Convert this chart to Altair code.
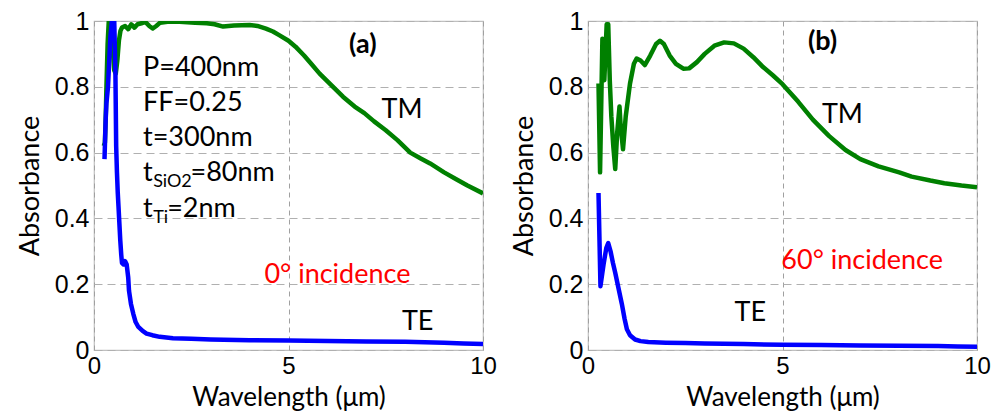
import altair as alt
import pandas as pd

# ---------------- data ----------------
# Panel (a): 0 deg incidence
a_tm_x = [0.25, 0.28, 0.30, 0.32, 0.35, 0.38, 0.42, 0.46, 0.49, 0.52, 0.56, 0.60, 0.64, 0.68, 0.72,
          0.80, 0.88, 0.96, 1.04, 1.12, 1.22, 1.32, 1.42, 1.51, 1.60, 1.70, 1.89, 2.2, 2.6, 2.9,
          3.1, 3.32, 3.6, 4.0, 4.2, 4.42, 4.6, 4.76, 5.0, 5.18, 5.4, 5.6, 5.8, 6.1, 6.4, 6.7,
          6.95, 7.2, 7.5, 7.8, 8.13, 8.4, 8.64, 9.0, 9.3, 9.6, 10.0]
a_tm_y = [0.62, 0.63, 0.70, 0.80, 0.93, 1.0, 1.0, 0.97, 0.90, 0.85, 0.84, 0.88, 0.94, 0.97, 0.98,
          0.985, 0.975, 0.99, 0.98, 0.99, 0.993, 0.997, 0.985, 0.977, 0.985, 0.995, 0.998, 0.998, 0.995, 0.993,
          0.99, 0.983, 0.986, 0.988, 0.985, 0.977, 0.968, 0.957, 0.94, 0.922, 0.895, 0.868, 0.84, 0.805, 0.77, 0.74,
          0.72, 0.695, 0.668, 0.638, 0.60, 0.582, 0.567, 0.54, 0.52, 0.50, 0.476]
a_te_x = [0.27, 0.30, 0.32, 0.36, 0.42, 0.46, 0.52, 0.55, 0.57, 0.59, 0.61, 0.63, 0.65, 0.675, 0.70,
          0.72, 0.76, 0.80, 0.84, 0.88, 0.90, 0.95, 1.01, 1.07, 1.14, 1.25, 1.35, 1.5, 1.69, 2.03,
          2.5, 3.0, 4.0, 5.0, 6.0, 7.0, 8.0, 9.0, 9.5, 10.0]
a_te_y = [0.58, 0.70, 0.75, 0.80, 0.95, 1.0, 1.0, 0.85, 0.62, 0.54, 0.48, 0.436, 0.39, 0.334, 0.29,
          0.264, 0.26, 0.27, 0.26, 0.22, 0.18, 0.14, 0.11, 0.085, 0.07, 0.058, 0.05, 0.045, 0.04, 0.036,
          0.034, 0.032, 0.030, 0.029, 0.027, 0.026, 0.025, 0.022, 0.020, 0.018]

# Panel (b): 60 deg incidence
b_tm_x = [0.27, 0.31, 0.37, 0.42, 0.48, 0.52, 0.56, 0.60, 0.65, 0.70, 0.75, 0.81, 0.84, 0.90, 0.97,
          1.08, 1.18, 1.25, 1.35, 1.46, 1.6, 1.75, 1.85, 1.95, 2.1, 2.26, 2.45, 2.6, 2.8, 3.0,
          3.25, 3.5, 3.75, 4.0, 4.25, 4.5, 4.75, 5.0, 5.4, 5.78, 6.2, 6.62, 7.0, 7.47, 8.0,
          8.32, 8.8, 9.16, 9.6, 10.0]
b_tm_y = [0.81, 0.54, 0.946, 0.82, 0.99, 0.99, 0.82, 0.71, 0.62, 0.55, 0.66, 0.74, 0.68, 0.61, 0.71,
          0.81, 0.87, 0.886, 0.88, 0.866, 0.895, 0.93, 0.94, 0.93, 0.895, 0.87, 0.855, 0.856, 0.875, 0.90,
          0.925, 0.935, 0.932, 0.916, 0.89, 0.86, 0.835, 0.808, 0.755, 0.70, 0.65, 0.608, 0.58, 0.558, 0.54,
          0.527, 0.515, 0.507, 0.50, 0.495]
b_te_x = [0.27, 0.32, 0.40, 0.47, 0.52, 0.58, 0.64, 0.70, 0.78, 0.87, 0.94, 1.0, 1.08, 1.21, 1.35,
          1.55, 2.0, 2.5, 3.0, 4.0, 5.0, 6.0, 7.0, 8.0, 9.0, 9.5, 10.0]
b_te_y = [0.477, 0.194, 0.26, 0.31, 0.325, 0.30, 0.265, 0.235, 0.19, 0.14, 0.095, 0.063, 0.045, 0.032, 0.027,
          0.024, 0.022, 0.021, 0.020, 0.018, 0.016, 0.015, 0.014, 0.013, 0.012, 0.011, 0.010]

series_names = ["TM", "TE"]
series_colors = ["#008000", "#0000ff"]

x_ticks = [0, 5, 10]
y_ticks = [0, 0.2, 0.4, 0.6, 0.8, 1]

panel_labels = ["(a)", "(b)"]
incidence_texts = ["0° incidence", "60° incidence"]

W, H = 389, 329
TEXT_FONT = "Lato"
TICK_FONT = "Liberation Sans"
FS = 27


def series_df(tm_x, tm_y, te_x, te_y):
    return pd.concat([
        pd.DataFrame({"x": tm_x, "y": tm_y, "s": "TM", "o": range(len(tm_x))}),
        pd.DataFrame({"x": te_x, "y": te_y, "s": "TE", "o": range(len(te_x))}),
    ])


xs = alt.Scale(domain=[0, 10], nice=False, zero=False)
ys = alt.Scale(domain=[0, 1], nice=False, zero=False)

x_axis = alt.Axis(values=x_ticks, format=".1~f", title="Wavelength (μm)", grid=True, gridDash=[5, 4],
                  gridColor="#a0a0a0", ticks=False, domain=False, labelFlush=False,
                  labelFont=TICK_FONT, labelFontSize=24, labelPadding=4, labelColor="black",
                  titleFont=TEXT_FONT, titleFontSize=26, titleFontWeight="normal",
                  titleColor="black", titlePadding=6)
y_axis = alt.Axis(values=y_ticks, format=".1~f", title="Absorbance", grid=True, gridDash=[8, 5],
                  gridColor="#b0b0b0", ticks=False, domain=False, labelFlush=False,
                  labelFont=TICK_FONT, labelFontSize=25, labelPadding=5, labelColor="black",
                  titleFont=TEXT_FONT, titleFontSize=FS, titleFontWeight="normal",
                  titleColor="black", titlePadding=10)


def text_layer(df, size, color="black", align="left", weight="normal", dy=0):
    return alt.Chart(df).mark_text(font=TEXT_FONT, fontSize=size, color=color, align=align,
                                   baseline="middle", fontWeight=weight, dy=dy).encode(
        x=alt.X("x:Q", scale=xs), y=alt.Y("y:Q", scale=ys), text="t:N")


def panel(df, ann_main, ann_sub, ann_label, ann_series, ann_inc):
    lines = alt.Chart(df).mark_line(strokeWidth=4.5, clip=True, strokeJoin="round").encode(
        x=alt.X("x:Q", scale=xs, axis=x_axis),
        y=alt.Y("y:Q", scale=ys, axis=y_axis),
        color=alt.Color("s:N", scale=alt.Scale(domain=series_names, range=series_colors), legend=None),
        order="o:Q",
    )
    layers = [lines]
    if ann_main is not None:
        layers.append(text_layer(ann_main, FS))
    if ann_sub is not None:
        layers.append(text_layer(ann_sub, 18, dy=9))
    layers.append(text_layer(ann_label, FS, align="center", weight="bold"))
    layers.append(text_layer(ann_series, FS, align="center"))
    layers.append(text_layer(ann_inc, FS, color="#ff0000"))
    return alt.layer(*layers).properties(width=W, height=H)


# panel (a) annotations
a_main = pd.DataFrame({
    "x": [1.26, 1.26, 1.26, 1.26, 2.48, 1.26, 1.88],
    "y": [0.856, 0.75, 0.643, 0.537, 0.537, 0.43, 0.43],
    "t": ["P=400nm", "FF=0.25", "t=300nm", "t", "=80nm", "t", "=2nm"],
})
a_sub = pd.DataFrame({"x": [1.52, 1.52], "y": [0.537, 0.43], "t": ["SiO2", "Ti"]})
a_label = pd.DataFrame({"x": [6.91], "y": [0.927], "t": [panel_labels[0]]})
a_series = pd.DataFrame({"x": [7.92, 8.32], "y": [0.73, 0.086], "t": series_names})
a_inc = pd.DataFrame({"x": [4.38], "y": [0.228], "t": [incidence_texts[0]]})

b_label = pd.DataFrame({"x": [6.03], "y": [0.936], "t": [panel_labels[1]]})
b_series = pd.DataFrame({"x": [6.54, 4.17], "y": [0.714, 0.113], "t": series_names})
b_inc = pd.DataFrame({"x": [4.97], "y": [0.27], "t": [incidence_texts[1]]})

pa = panel(series_df(a_tm_x, a_tm_y, a_te_x, a_te_y), a_main, a_sub, a_label, a_series, a_inc)
pb = panel(series_df(b_tm_x, b_tm_y, b_te_x, b_te_y), None, None, b_label, b_series, b_inc)

chart = alt.hconcat(pa, pb, spacing=12).properties(
    padding={"left": 7, "top": 0, "right": 0, "bottom": 0}
).configure_view(stroke="#c0c0c0", strokeWidth=1.2)

chart.save("out.html", embed_options={"renderer": "svg", "actions": False})
